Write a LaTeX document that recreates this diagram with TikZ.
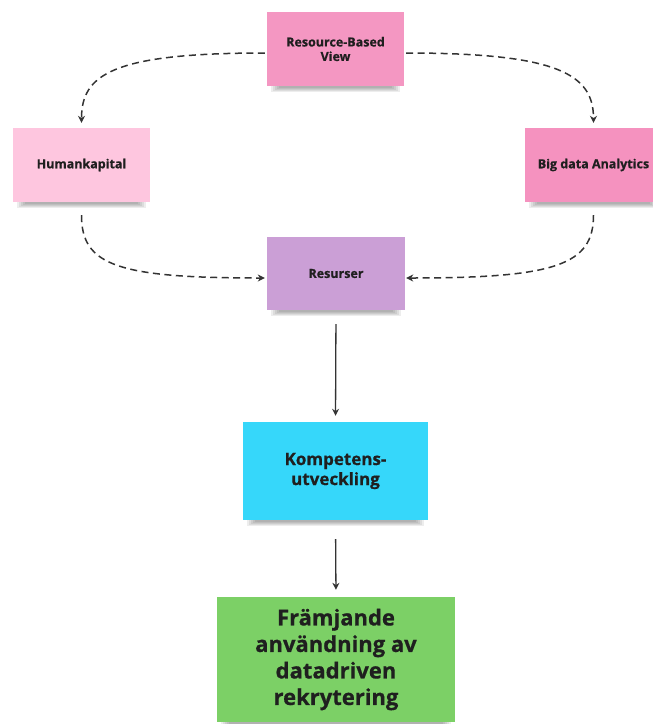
\documentclass[tikz,border=0pt]{standalone}
\usepackage{fontspec}
\setmainfont{Open Sans}[BoldFeatures={FakeBold=0.6}]
\usetikzlibrary{arrows.meta,backgrounds}
\definecolor{rbvpink}{HTML}{F497C2}
\definecolor{humpink}{HTML}{FEC6DF}
\definecolor{bigpink}{HTML}{F592BF}
\definecolor{reslila}{HTML}{CB9FD6}
\definecolor{kompblue}{HTML}{36D7FA}
\definecolor{framgreen}{HTML}{7CD066}
\definecolor{ink}{HTML}{1F1F1F}
\definecolor{linec}{HTML}{333333}
\tikzset{
  sticky/.style={inner sep=0pt, align=center, text=ink, font=\bfseries},
  smallnote/.style={sticky, minimum width=137pt, minimum height=74pt, font=\bfseries\fontsize{12.5}{14.5}\selectfont},
  dasharrow/.style={draw=linec, line width=1.5pt, dash pattern=on 7pt off 4.5pt, -{Stealth[length=7pt,width=7pt]}},
  solidarrow/.style={draw=linec, line width=1.3pt, -{Stealth[length=7pt,width=7pt]}}
}
\begin{document}
\begin{tikzpicture}[x=1pt,y=-1pt]
\useasboundingbox (0,0) rectangle (653,724);
\node[smallnote, fill=rbvpink] (rbv) at (335.5,49) {Resource-Based\\View};
\node[smallnote, fill=humpink] (hum) at (81.5,165) {Humankapital};
\node[smallnote, fill=bigpink] (big) at (593.5,165) {Big data Analytics};
\node[smallnote, fill=reslila, minimum width=138pt, minimum height=73pt] (res) at (336,273.5) {Resurser};
\node[sticky, fill=kompblue, minimum width=185pt, minimum height=98pt, font=\bfseries\fontsize{17}{20}\selectfont] (komp) at (335.5,471) {Kompetens-\\utveckling};
\node[sticky, fill=framgreen, minimum width=238pt, minimum height=125pt, font=\bfseries\fontsize{22}{26.5}\selectfont] (fram) at (336,659.5) {Främjande\\användning av\\datadriven\\rekrytering};
\begin{scope}[on background layer]
\foreach \n in {rbv,hum,big,res,komp,fram}{
  \foreach \i in {0,1,2,3,4}{
    \fill[black,opacity=0.07] ([xshift=4pt+2*\i pt]\n.south west) rectangle ([xshift=-4pt-2*\i pt, yshift=-6pt+\i pt]\n.south east);
  }
}
\end{scope}
\draw[dasharrow, shorten <=2pt, shorten >=5pt] ([yshift=-4pt]rbv.west) .. controls +(-155,0) and +(0,-53) .. (hum.north);
\draw[dasharrow, shorten <=2pt, shorten >=5pt] ([yshift=-4pt]rbv.east) .. controls +(155,0) and +(0,-53) .. (big.north);
\draw[dasharrow, shorten <=13pt, shorten >=2pt] (hum.south) .. controls +(0,63) and +(-150,0) .. ([yshift=-4.5pt]res.west);
\draw[dasharrow, shorten <=13pt, shorten >=1pt] (big.south) .. controls +(0,63) and +(150,0) .. ([yshift=-4.5pt]res.east);
\draw[solidarrow, shorten <=14pt, shorten >=6pt] (res.south) -- (komp.north);
\draw[solidarrow, shorten <=19pt, shorten >=7pt] (komp.south) -- (fram.north);
\end{tikzpicture}
\end{document}
